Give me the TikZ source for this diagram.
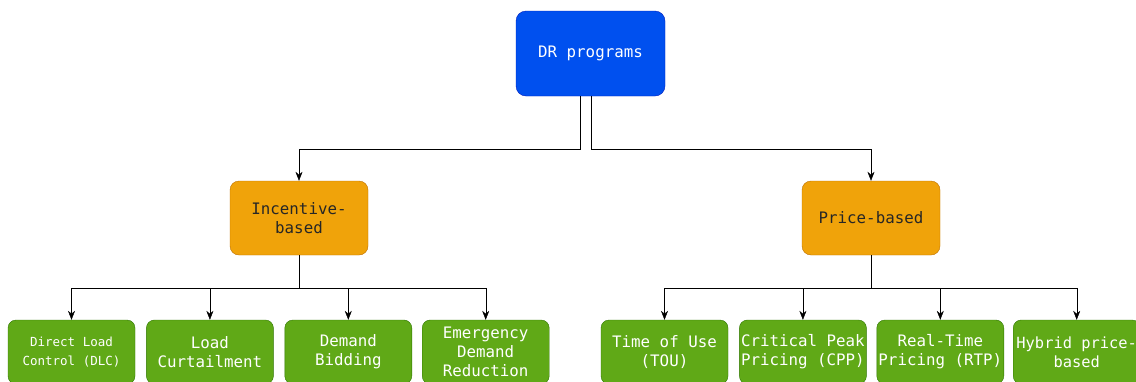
\documentclass[tikz,border=0pt]{standalone}
\usepackage{fontspec}
\setmonofont{DejaVu Sans Mono}
\usepackage{xcolor}
\usetikzlibrary{arrows.meta,positioning}
\definecolor{rootblue}{RGB}{0,80,239}
\definecolor{rootedge}{RGB}{0,29,188}
\definecolor{midorange}{RGB}{240,163,10}
\definecolor{midedge}{RGB}{189,112,0}
\definecolor{leafgreen}{RGB}{96,169,23}
\definecolor{leafedge}{RGB}{45,118,0}

\begin{document}
\begin{tikzpicture}[x=1pt, y=1pt,
root/.style={draw=rootedge, fill=rootblue, text=white, rounded corners=10pt, minimum width=149pt, minimum height=85pt, align=center, font=\ttfamily\fontsize{15.8}{19}\selectfont},
mid/.style={draw=midedge, fill=midorange, text=black!85, rounded corners=9pt, minimum width=138pt, minimum height=74pt, align=center, font=\ttfamily\fontsize{15.8}{19}\selectfont},
leaf/.style={draw=leafedge, fill=leafgreen, text=white, rounded corners=8pt, minimum width=127pt, minimum height=64pt, inner sep=0pt, align=center, font=\ttfamily\fontsize{15.8}{19}\selectfont},
arrow/.style={-{Stealth[length=9pt,width=7pt]}, thin, black}
]
\useasboundingbox (0,0) rectangle (1136,-381);

\node[root] (dr) at (590.5,-53.5) {DR programs};
\node[mid] (inc) at (299,-218) {Incentive-\\based};
\node[mid] (price) at (871,-218) {Price-based};

\node[leaf, font=\ttfamily\fontsize{12.5}{19}\selectfont] (dlc) at (71.5,-352) {Direct Load\\Control (DLC)};
\node[leaf, right=11pt of dlc] (lc) {Load\\Curtailment};
\node[leaf, right=11pt of lc] (db) {Demand\\Bidding};
\node[leaf, right=10pt of db] (edr) {Emergency\\Demand\\Reduction};

\node[leaf] (tou) at (664.5,-352) {Time of Use\\(TOU)};
\node[leaf, right=11pt of tou] (cpp) {Critical Peak\\Pricing (CPP)};
\node[leaf, right=10pt of cpp] (rtp) {Real-Time\\Pricing (RTP)};
\node[leaf, right=9pt of rtp, font=\ttfamily\fontsize{15.4}{19}\selectfont] (hyb) {Hybrid price-\\based};

\draw[arrow] ([xshift=-10pt]dr.south) -- ++(0,-53) -| (inc.north);
\draw[arrow] ([xshift=1pt]dr.south) -- ++(0,-53) -| (price.north);

\foreach \c in {dlc,lc,db,edr}
  \draw[arrow] (inc.south) -- ++(0,-33) -| (\c.north);
\foreach \c in {tou,cpp,rtp,hyb}
  \draw[arrow] (price.south) -- ++(0,-33) -| (\c.north);
\end{tikzpicture}
\end{document}
